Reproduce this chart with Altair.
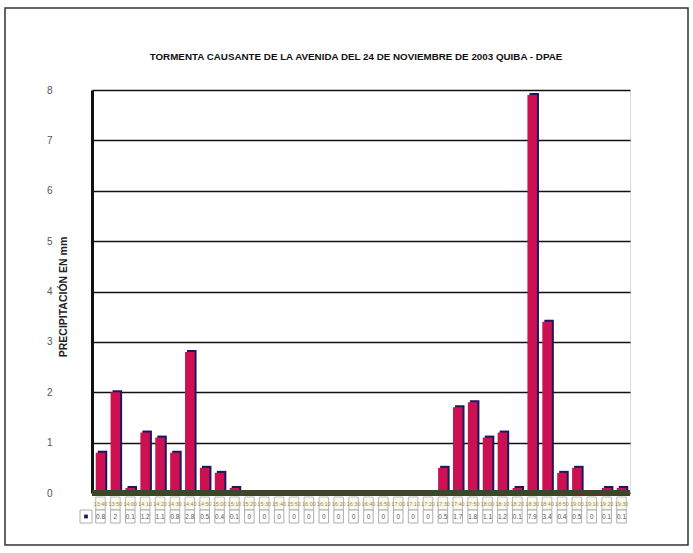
import altair as alt
import pandas as pd

# Hora de cada registro (intervalos de 10 minutos)
horas = [
    "13:40", "13:50", "14:00", "14:10", "14:20", "14:30", "14:40", "14:50", "15:00",
    "15:10", "15:20", "15:30", "15:40", "15:50", "16:00", "16:10", "16:20", "16:30",
    "16:40", "16:50", "17:00", "17:10", "17:20", "17:30", "17:40", "17:50", "18:00",
    "18:10", "18:20", "18:30", "18:40", "18:50", "19:00", "19:10", "19:20", "19:30",
]
# Precipitación registrada en mm
precipitacion = [
    0.8, 2, 0.1, 1.2, 1.1, 0.8, 2.8, 0.5, 0.4, 0.1, 0, 0, 0, 0, 0, 0, 0, 0,
    0, 0, 0, 0, 0, 0.5, 1.7, 1.8, 1.1, 1.2, 0.1, 7.9, 3.4, 0.4, 0.5, 0, 0.1, 0.1,
]
titulo = "TORMENTA CAUSANTE DE LA AVENIDA DEL 24 DE NOVIEMBRE DE 2003 QUIBA - DPAE"
titulo_y = "PRECIPITACIÓN EN mm"

W, H = 538, 403
df = pd.DataFrame({"hora": horas, "mm": precipitacion})
base = alt.Chart(df)
uno = alt.datum.hora == horas[0]

x_enc = alt.X("hora:N", sort=horas, axis=None,
              scale=alt.Scale(paddingInner=0.36, paddingOuter=0.25))
x_tab = alt.X("hora:N", sort=horas, axis=None,
              scale=alt.Scale(paddingInner=0, paddingOuter=0))

y_enc = alt.Y(
    "mm:Q",
    scale=alt.Scale(domain=[0, 8], nice=False),
    axis=alt.Axis(
        values=list(range(0, 9)), title=titulo_y, grid=True, gridColor="#111",
        gridWidth=1.4, domainColor="#111", domainWidth=3, ticks=False,
        labelPadding=40, labelColor="#555", labelFontSize=10, labelFont="Liberation Sans",
        titleFont="Liberation Sans", titleFontSize=10.5, titleFontWeight="bold",
        titleColor="#222", titleX=-29, titleY=H / 2 + 5, titleAngle=-90,
        titleAlign="center", titleBaseline="middle",
    ),
)

# Marco exterior del gráfico
marco = base.mark_rect(fill=None, stroke="#333", strokeWidth=1.5).encode(
    x=alt.value(-87), x2=alt.value(596), y=alt.value(-82), y2=alt.value(455)
).transform_filter(uno)

# Título del gráfico
encabezado = base.mark_text(
    text=titulo, font="Liberation Sans", fontSize=9.8, fontWeight="bold",
    color="#111", align="center", baseline="middle",
).encode(x=alt.value(W / 2 - 5), y=alt.value(-33)).transform_filter(uno)

# Piso del gráfico
piso = base.mark_rect(color="#3e4528").encode(
    x=alt.value(0), x2=alt.value(W), y=alt.value(H - 3), y2=alt.value(H + 3)
).transform_filter(uno)

lluvia = df[df["mm"] > 0]
sombra = alt.Chart(lluvia).mark_bar(color="#1d1760", xOffset=2, yOffset=-2).encode(
    x=x_enc, y=y_enc
)
barras = alt.Chart(lluvia).mark_bar(color="#cc1052").encode(x=x_enc, y=y_enc)

# Tabla de datos bajo el eje
celda_hora = base.mark_rect(fill="#fbf9ee", stroke="#aaa", strokeWidth=0.8).encode(
    x=x_tab, y=alt.value(H + 4), y2=alt.value(H + 17)
)
texto_hora = base.mark_text(fontSize=5.5, color="#9a8a40", font="Liberation Sans").encode(
    x=x_tab, y=alt.value(H + 11), text="hora:N"
)
celda_mm = base.mark_rect(fill="white", stroke="#999", strokeWidth=0.8).encode(
    x=x_tab, y=alt.value(H + 17), y2=alt.value(H + 30)
)
texto_mm = base.mark_text(fontSize=6.5, color="#555", font="Liberation Sans").encode(
    x=x_tab, y=alt.value(H + 24), text=alt.Text("mm:Q", format=".1~f")
)
celda_leyenda = base.mark_rect(fill="white", stroke="#999", strokeWidth=0.8).encode(
    x=alt.value(-12), x2=alt.value(0), y=alt.value(H + 17), y2=alt.value(H + 30)
).transform_filter(uno)
clave = base.mark_square(color="#1d1760", size=14, opacity=1).encode(
    x=alt.value(-6), y=alt.value(H + 23.5)
).transform_filter(uno)

chart = alt.layer(
    marco, encabezado, sombra, barras, piso, celda_hora, texto_hora, celda_mm,
    texto_mm, celda_leyenda, clave,
).resolve_scale(x="shared").properties(
    width=W, height=H,
    autosize=alt.AutoSizeParams(type="none"),
    padding={"left": 92, "top": 90, "right": 63, "bottom": 60},
).configure_view(stroke="#888", strokeWidth=1).configure(background="white")

chart.save("out.html", embed_options={"renderer": "svg", "actions": False})
